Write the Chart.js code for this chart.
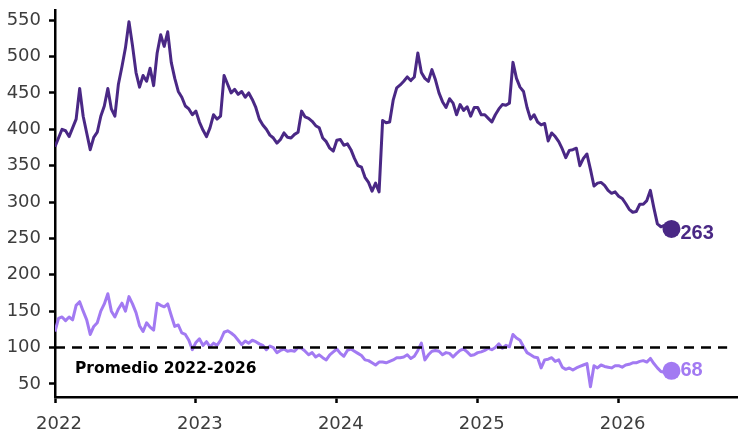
<!DOCTYPE html>
<html>
<head>
<meta charset="utf-8">
<script src="https://cdn.jsdelivr.net/npm/chart.js@4.4.1/dist/chart.umd.min.js"></script>
<style>
  html, body { margin: 0; padding: 0; background: #ffffff; }
  #wrap { width: 738px; height: 432px; }
</style>
</head>
<body>
<div id="wrap"><canvas id="chart" width="738" height="432"></canvas></div>
<script>
// Series sampled every 1/40 of a year, starting at the beginning of 2022
const startYear = 2022;
const samplesPerYear = 40;

const upperSeries = [
  376,388,400,398,390,402,414,456,418,395,
  372,389,396,418,432,456,428,418,462,486,
  512,548,515,478,458,474,466,484,460,505,
  530,514,534,492,470,452,444,432,428,420,
  425,410,399,390,402,420,414,418,474,462,
  450,455,448,452,444,450,441,430,414,406,
  400,392,388,381,386,395,389,388,393,396,
  425,417,415,411,405,402,388,383,374,370,
  385,386,378,380,372,360,350,348,334,327,
  315,326,314,412,409,410,440,457,461,466,
  472,467,472,505,478,470,466,482,468,450,
  438,430,442,436,420,434,426,431,418,430,
  430,420,420,415,410,420,428,434,433,436,
  492,470,458,452,430,414,420,410,406,408,
  384,395,390,383,373,361,371,372,374,350,
  360,366,345,322,326,327,323,316,312,314,
  308,305,298,290,286,287,297,297,302,316,
  292,270,266,268,264,263
];

const lowerSeries = [
  122,140,142,137,142,138,158,163,150,138,
  118,129,134,150,160,174,150,142,153,161,
  150,170,160,148,130,122,134,128,124,161,
  158,156,160,144,129,131,120,118,110,97,
  107,112,103,108,101,106,103,110,121,123,
  120,116,110,104,109,106,110,108,105,103,
  97,102,100,93,96,98,95,96,95,100,
  99,95,90,93,87,90,86,83,90,94,
  98,92,88,96,98,95,92,89,83,82,
  79,76,80,80,79,81,83,86,86,87,
  90,85,88,96,106,83,90,95,96,95,
  90,93,92,87,92,96,98,94,89,90,
  93,94,96,99,97,100,105,99,103,101,
  118,113,110,101,93,90,87,86,72,83,
  84,86,81,83,73,70,72,69,72,74,
  76,78,46,75,72,76,74,73,72,75,
  75,73,76,77,79,79,81,82,80,85,
  78,72,67,66,69,68
];

const averageLevel = 100;
const averageSpan = [2022, 2026.77];
const averageLabel = 'Promedio 2022-2026';

const xTicks = [2022, 2023, 2024, 2025, 2026];
const yTicks = [50, 100, 150, 200, 250, 300, 350, 400, 450, 500, 550];

const upperColor = '#4a2885';
const lowerColor = '#a27af2';

const toPoints = values => values.map((v, i) => ({ x: startYear + i / samplesPerYear, y: v }));
const lastOnly = n => ctx => (ctx.dataIndex === n - 1 ? 9 : 0);

// Labels for the average line and the latest value of each series
const annotations = {
  id: 'annotations',
  afterDatasetsDraw(chart) {
    const { ctx, chartArea, scales: { y } } = chart;
    ctx.save();
    ctx.textAlign = 'left';
    ctx.textBaseline = 'middle';
    ctx.fillStyle = '#000000';
    ctx.font = 'bold 15.5px "DejaVu Sans"';
    ctx.fillText(averageLabel, chartArea.left + 20, y.getPixelForValue(averageLevel) + 21);

    [[0, upperColor, 5], [2, lowerColor, 0]].forEach(([di, color, dy]) => {
      const meta = chart.getDatasetMeta(di);
      const pts = chart.data.datasets[di].data;
      const el = meta.data[pts.length - 1];
      ctx.fillStyle = color;
      ctx.font = 'bold 20px "Liberation Sans"';
      ctx.fillText(String(pts[pts.length - 1].y), el.x + 9, el.y + dy);
    });
    ctx.restore();
  }
};

new Chart(document.getElementById('chart'), {
  type: 'line',
  data: {
    datasets: [
      {
        data: toPoints(upperSeries),
        borderColor: upperColor,
        backgroundColor: upperColor,
        borderWidth: 3,
        borderJoinStyle: 'round',
        pointRadius: lastOnly(upperSeries.length),
        pointHoverRadius: 0,
        pointBorderWidth: 0,
        tension: 0
      },
      {
        data: averageSpan.map(x => ({ x, y: averageLevel })),
        borderColor: '#000000',
        borderWidth: 2.4,
        borderDash: [10, 7],
        pointRadius: 0,
        tension: 0
      },
      {
        data: toPoints(lowerSeries),
        borderColor: lowerColor,
        backgroundColor: lowerColor,
        borderWidth: 3,
        borderJoinStyle: 'round',
        pointRadius: lastOnly(lowerSeries.length),
        pointHoverRadius: 0,
        pointBorderWidth: 0,
        tension: 0
      }
    ]
  },
  options: {
    responsive: false,
    animation: false,
    devicePixelRatio: 1,
    layout: { autoPadding: false, padding: { top: 10, right: 1, left: 0, bottom: 0 } },
    plugins: { legend: { display: false }, tooltip: { enabled: false } },
    scales: {
      x: {
        type: 'linear',
        min: 2022,
        max: 2026.84,
        afterBuildTicks: s => { s.ticks = xTicks.map(v => ({ value: v })); },
        afterFit: s => { s.height = 35; s.paddingLeft = 0; s.paddingRight = 0; },
        grid: { drawOnChartArea: false, drawTicks: true, tickLength: 6, tickWidth: 2.5, tickColor: '#000000' },
        border: { display: true, color: '#000000', width: 2.5 },
        ticks: {
          color: '#3d3d3d',
          font: { family: '"DejaVu Sans"', size: 18 },
          padding: 11,
          labelOffset: 4,
          maxRotation: 0,
          autoSkip: false,
          callback: v => String(v)
        }
      },
      y: {
        type: 'linear',
        min: 32,
        max: 564,
        afterBuildTicks: s => { s.ticks = yTicks.map(v => ({ value: v })); },
        afterFit: s => { s.width = 55; s.paddingTop = 0; s.paddingBottom = 0; },
        grid: { drawOnChartArea: false, drawTicks: true, tickLength: 6, tickWidth: 2.5, tickColor: '#000000' },
        border: { display: true, color: '#000000', width: 2.5 },
        ticks: {
          color: '#3d3d3d',
          font: { family: '"DejaVu Sans"', size: 18 },
          padding: 8,
          autoSkip: false,
          callback: v => String(v)
        }
      }
    }
  },
  plugins: [annotations]
});
</script>
</body>
</html>
